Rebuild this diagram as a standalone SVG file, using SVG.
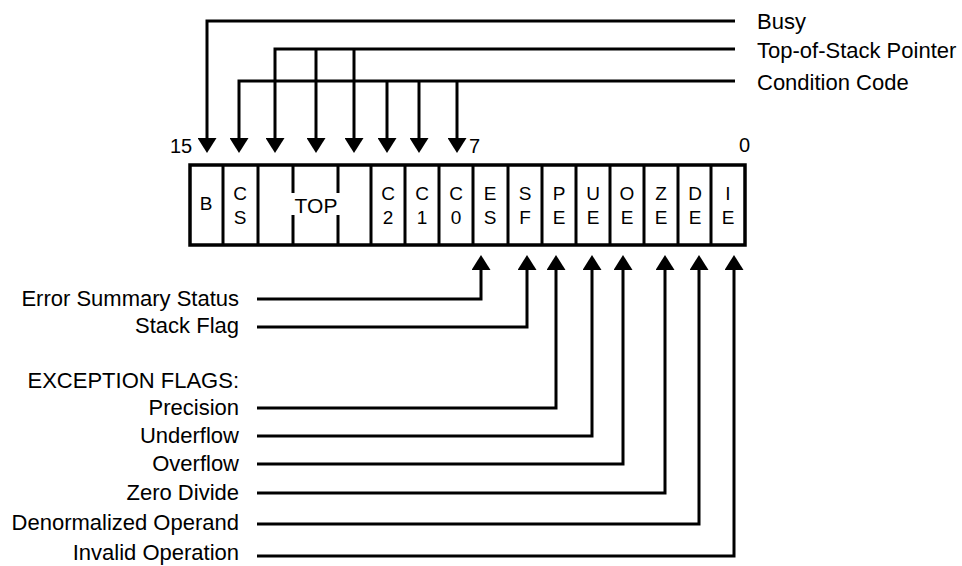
<svg xmlns="http://www.w3.org/2000/svg" width="962" height="566" viewBox="0 0 962 566">
<style>
text{font-family:"Liberation Sans",Arial,Helvetica,sans-serif;fill:#000}
.lbl{font-size:22px}
.l{text-anchor:end}
.cell{font-size:19px;text-anchor:middle}
.num{font-size:20px}
.w{fill:none;stroke:#000;stroke-width:3}
.box{fill:#fff;stroke:#000;stroke-width:3.5}
.div{stroke:#000;stroke-width:3}
</style>
<defs>
<marker id="ah" viewBox="0 0 15 19" refX="10" refY="9.5" markerWidth="15" markerHeight="19" orient="auto" markerUnits="userSpaceOnUse">
<path d="M0,0 L15,9.5 L0,19 z" fill="#000"/>
</marker>
</defs>
<rect width="962" height="566" fill="#fff"/>
<g id="register">
<rect class="box" x="190" y="165" width="555" height="80"/>
<path class="div" d="M223,165V245M258,165V245M371,165V245M405,165V245M439,165V245M473,165V245M508,165V245M542,165V245M576,165V245M610,165V245M644,165V245M678,165V245M711,165V245M293,165V193M293,215V245M338,165V193M338,215V245"/>
<text class="num" x="170" y="153">15</text>
<text class="num" x="469" y="153">7</text>
<text class="num" x="739" y="152">0</text>
</g>
<g id="cells">
<text class="cell" x="206" y="210">B</text>
<text class="cell" x="240" y="200">C</text><text class="cell" x="240" y="224">S</text>
<text class="cell" x="316" y="213" style="font-size:21px">TOP</text>
<text class="cell" x="388" y="200">C</text><text class="cell" x="388" y="224">2</text>
<text class="cell" x="422" y="200">C</text><text class="cell" x="422" y="224">1</text>
<text class="cell" x="456" y="200">C</text><text class="cell" x="456" y="224">0</text>
<text class="cell" x="490" y="200">E</text><text class="cell" x="490" y="224">S</text>
<text class="cell" x="525" y="200">S</text><text class="cell" x="525" y="224">F</text>
<text class="cell" x="559" y="200">P</text><text class="cell" x="559" y="224">E</text>
<text class="cell" x="593" y="200">U</text><text class="cell" x="593" y="224">E</text>
<text class="cell" x="627" y="200">O</text><text class="cell" x="627" y="224">E</text>
<text class="cell" x="661" y="200">Z</text><text class="cell" x="661" y="224">E</text>
<text class="cell" x="695" y="200">D</text><text class="cell" x="695" y="224">E</text>
<text class="cell" x="728" y="200">I</text><text class="cell" x="728" y="224">E</text>
</g>
<g id="labels-top">
<text class="lbl" x="757" y="29">Busy</text>
<text class="lbl" x="757" y="58">Top-of-Stack Pointer</text>
<text class="lbl" x="757" y="90">Condition Code</text>
</g>
<g id="labels-bottom">
<text class="lbl l" x="239" y="306">Error Summary Status</text>
<text class="lbl l" x="239" y="333">Stack Flag</text>
<text class="lbl l" x="239" y="388">EXCEPTION FLAGS:</text>
<text class="lbl l" x="239" y="415">Precision</text>
<text class="lbl l" x="239" y="443">Underflow</text>
<text class="lbl l" x="239" y="471">Overflow</text>
<text class="lbl l" x="239" y="500">Zero Divide</text>
<text class="lbl l" x="239" y="530">Denormalized Operand</text>
<text class="lbl l" x="239" y="560">Invalid Operation</text>
</g>
<g id="connectors">
<path class="w" marker-end="url(#ah)" d="M735,21H207V148"/>
<path class="w" marker-end="url(#ah)" d="M735,49H275V148"/>
<path class="w" marker-end="url(#ah)" d="M316,49V148"/>
<path class="w" marker-end="url(#ah)" d="M354,49V148"/>
<path class="w" marker-end="url(#ah)" d="M735,81H239V148"/>
<path class="w" marker-end="url(#ah)" d="M387,81V148"/>
<path class="w" marker-end="url(#ah)" d="M419,81V148"/>
<path class="w" marker-end="url(#ah)" d="M457,81V148"/>
<path class="w" marker-end="url(#ah)" d="M257,299H481V260"/>
<path class="w" marker-end="url(#ah)" d="M257,327H527V260"/>
<path class="w" marker-end="url(#ah)" d="M257,408H556V260"/>
<path class="w" marker-end="url(#ah)" d="M257,436H592V260"/>
<path class="w" marker-end="url(#ah)" d="M257,464H623V260"/>
<path class="w" marker-end="url(#ah)" d="M257,493H665V260"/>
<path class="w" marker-end="url(#ah)" d="M257,524H699V260"/>
<path class="w" marker-end="url(#ah)" d="M257,556H734V260"/>
</g>
</svg>
